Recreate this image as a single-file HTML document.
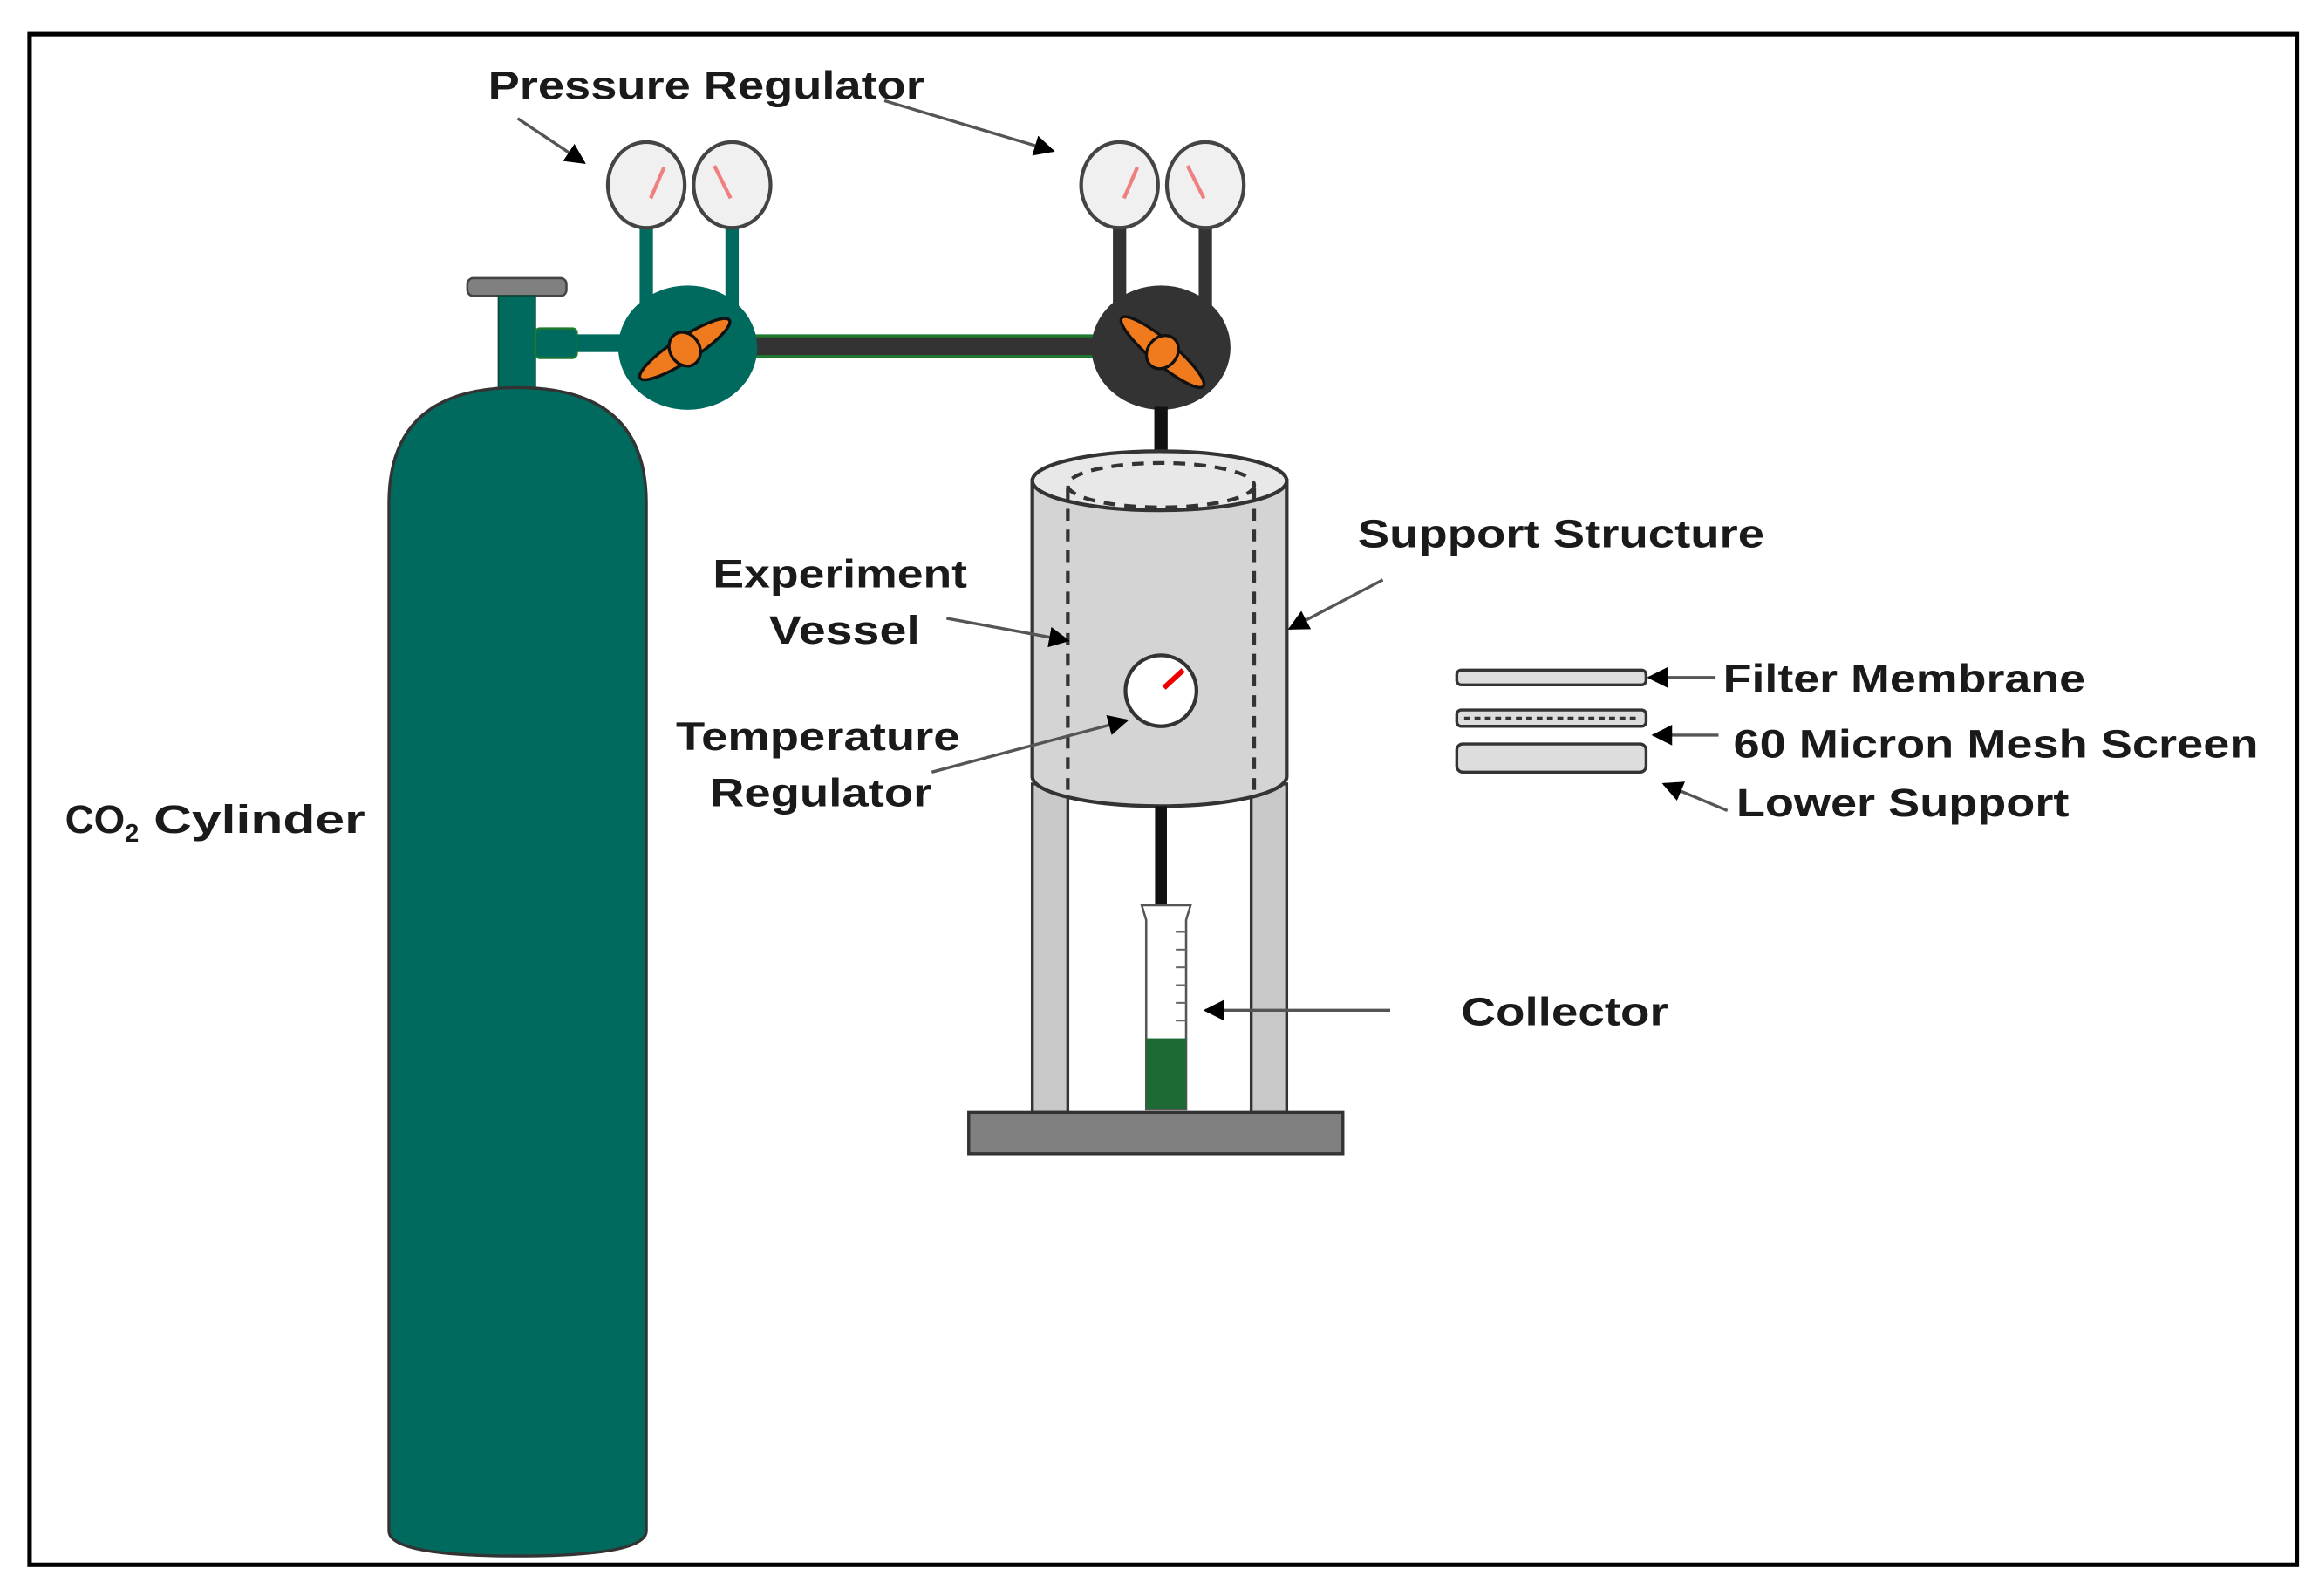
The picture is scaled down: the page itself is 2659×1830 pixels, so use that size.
<!DOCTYPE html>
<html><head><meta charset="utf-8"><style>
html,body{margin:0;padding:0;background:#fff;}
svg{display:block;}
text{font-family:"Liberation Sans",sans-serif;font-weight:bold;font-size:27px;fill:#1a1a1a;}
</style></head><body>
<svg width="2659" height="1830" viewBox="0 0 1568 1079" xmlns="http://www.w3.org/2000/svg">
<defs>
<marker id="ah" viewBox="0 0 10 10" refX="9" refY="5" markerWidth="7" markerHeight="7" orient="auto"><path d="M0,0 L10,5 L0,10 z" fill="#000"/></marker>
</defs>
<rect x="20" y="23" width="1533" height="1035" fill="#fff" stroke="#000" stroke-width="3"/>

<!-- cylinder -->
<rect x="316" y="188" width="67" height="12" rx="4" fill="#808080" stroke="#444" stroke-width="1.5"/>
<rect x="337" y="200" width="25" height="66" fill="#006a5e" stroke="#0a4a3a" stroke-width="1"/>
<path d="M263,340 Q263,262 350,262 Q437,262 437,340 L437,1035 Q437,1052 350,1052 Q263,1052 263,1035 Z" fill="#006a5e" stroke="#333" stroke-width="2"/>
<!-- fitting -->
<rect x="362" y="222" width="28" height="20" rx="3" fill="#006a5e" stroke="#1e7a2e" stroke-width="1.5"/>
<rect x="390" y="226" width="30" height="12" fill="#006a5e"/>
<!-- gauge stems -->
<g stroke="#006a5e" stroke-width="9"><line x1="437" y1="150" x2="437" y2="215"/><line x1="495" y1="150" x2="495" y2="215"/></g>
<g stroke="#333" stroke-width="9"><line x1="757" y1="150" x2="757" y2="215"/><line x1="815" y1="150" x2="815" y2="215"/></g>
<!-- pipe -->
<rect x="505" y="227" width="240" height="14" fill="#333" stroke="#1e7a2e" stroke-width="2"/>
<!-- regulators -->
<ellipse cx="465" cy="235" rx="47" ry="42" fill="#006a5e"/>
<ellipse cx="785" cy="235" rx="47" ry="42" fill="#333"/>
<g stroke="#111" stroke-width="2" fill="#f07a1e">
<ellipse cx="463" cy="236" rx="36" ry="8" transform="rotate(-33 463 236)"/>
<ellipse cx="463" cy="236" rx="10" ry="12" transform="rotate(-33 463 236)"/>
<ellipse cx="786" cy="238" rx="36" ry="8" transform="rotate(40 786 238)"/>
<ellipse cx="786" cy="238" rx="10" ry="12" transform="rotate(40 786 238)"/>
</g>
<line x1="785" y1="275" x2="785" y2="308" stroke="#111" stroke-width="9"/>
<!-- gauges -->
<g fill="#f0f0f0" stroke="#444" stroke-width="2.5">
<ellipse cx="437" cy="125" rx="26" ry="29"/><ellipse cx="495" cy="125" rx="26" ry="29"/>
<ellipse cx="757" cy="125" rx="26" ry="29"/><ellipse cx="815" cy="125" rx="26" ry="29"/>
</g>
<g stroke="#f08080" stroke-width="2.5">
<line x1="449" y1="113" x2="440" y2="134"/><line x1="483" y1="112" x2="494" y2="134"/>
<line x1="769" y1="113" x2="760" y2="134"/><line x1="803" y1="112" x2="814" y2="134"/>
</g>

<!-- legs & base -->
<rect x="698" y="530" width="24" height="222" fill="#c8c8c8" stroke="#333" stroke-width="2"/>
<rect x="846" y="530" width="24" height="222" fill="#c8c8c8" stroke="#333" stroke-width="2"/>
<rect x="655" y="752" width="253" height="28" fill="#808080" stroke="#333" stroke-width="2"/>
<!-- vessel -->
<path d="M698,325 L698,525 A86,20 0 0 0 870,525 L870,325 Z" fill="#d4d4d4" stroke="#333" stroke-width="2.5"/>
<ellipse cx="784" cy="325" rx="86" ry="20" fill="#e8e8e8" stroke="#333" stroke-width="2.5"/>
<g fill="none" stroke="#333" stroke-width="2.5" stroke-dasharray="8,6">
<ellipse cx="785" cy="328" rx="63" ry="15"/>
<line x1="722" y1="330" x2="722" y2="540"/><line x1="848" y1="330" x2="848" y2="540"/>
</g>
<ellipse cx="785" cy="467" rx="24" ry="24" fill="#fff" stroke="#333" stroke-width="2.5"/>
<line x1="787" y1="465" x2="800" y2="453" stroke="#e00" stroke-width="3.5"/>
<!-- tube & collector -->
<line x1="785" y1="545" x2="785" y2="615" stroke="#111" stroke-width="8"/>
<path d="M772,612 L805,612 L802,622 L802,750 L775,750 L775,622 Z" fill="#fff" stroke="#555" stroke-width="1.5"/>
<rect x="775" y="702" width="27" height="48" fill="#1e6a34"/>
<g stroke="#666" stroke-width="1.2">
<line x1="795" y1="630" x2="802" y2="630"/><line x1="795" y1="642" x2="802" y2="642"/><line x1="795" y1="654" x2="802" y2="654"/><line x1="795" y1="666" x2="802" y2="666"/><line x1="795" y1="678" x2="802" y2="678"/><line x1="795" y1="690" x2="802" y2="690"/>
</g>

<!-- discs -->
<rect x="985" y="453" width="128" height="10" rx="3" fill="#ddd" stroke="#333" stroke-width="2"/>
<rect x="985" y="480" width="128" height="11" rx="3" fill="#ddd" stroke="#333" stroke-width="2"/>
<line x1="990" y1="485.5" x2="1108" y2="485.5" stroke="#333" stroke-width="2" stroke-dasharray="4,3"/>
<rect x="985" y="503" width="128" height="19" rx="4" fill="#ddd" stroke="#333" stroke-width="2"/>

<!-- arrows -->
<g stroke="#555" stroke-width="2" fill="none" marker-end="url(#ah)">
<line x1="350" y1="80" x2="395" y2="110"/>
<line x1="598" y1="68" x2="712" y2="102"/>
<line x1="640" y1="418" x2="722" y2="433"/>
<line x1="630" y1="522" x2="762" y2="487"/>
<line x1="935" y1="392" x2="872" y2="425"/>
<line x1="1160" y1="458" x2="1115" y2="458"/>
<line x1="1162" y1="497" x2="1118" y2="497"/>
<line x1="1168" y1="548" x2="1125" y2="530"/>
<line x1="940" y1="683" x2="815" y2="683"/>
</g>

<!-- labels -->
<text x="330" y="67" textLength="295" lengthAdjust="spacingAndGlyphs">Pressure Regulator</text>
<text x="482" y="397" textLength="172" lengthAdjust="spacingAndGlyphs">Experiment</text>
<text x="520" y="435" textLength="102" lengthAdjust="spacingAndGlyphs">Vessel</text>
<text x="457" y="507" textLength="192" lengthAdjust="spacingAndGlyphs">Temperature</text>
<text x="480" y="545" textLength="150" lengthAdjust="spacingAndGlyphs">Regulator</text>
<text x="918" y="370" textLength="275" lengthAdjust="spacingAndGlyphs">Support Structure</text>
<text x="44" y="563" font-size="28">CO<tspan font-size="17" dy="6">2</tspan><tspan dy="-6" textLength="153" lengthAdjust="spacingAndGlyphs"> Cylinder</tspan></text>
<text x="1165" y="468" textLength="245" lengthAdjust="spacingAndGlyphs">Filter Membrane</text>
<text x="1172" y="512" textLength="355" lengthAdjust="spacingAndGlyphs">60 Micron Mesh Screen</text>
<text x="1174" y="552" textLength="225" lengthAdjust="spacingAndGlyphs">Lower Support</text>
<text x="988" y="693" textLength="140" lengthAdjust="spacingAndGlyphs">Collector</text>
</svg>
</body></html>
